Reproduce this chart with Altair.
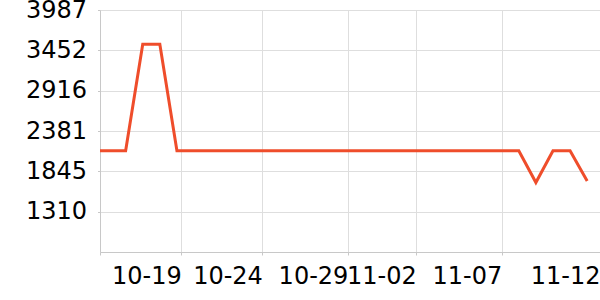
import altair as alt
import pandas as pd

dates = pd.date_range("2024-10-14", "2024-11-12", freq="D")
date_str = [d.strftime("%Y-%m-%d") for d in dates]
values = [2118, 2118, 2118, 3531, 3531,
          2118, 2118, 2118, 2118, 2118, 2118, 2118, 2118, 2118, 2118, 2118,
          2118, 2118, 2118, 2118, 2118, 2118, 2118, 2118, 2118, 2118,
          1697, 2118, 2118, 1718]

y_ticks = [1310.0, 1845.4, 2380.8, 2916.2, 3451.6, 3987.0]
y_domain = [774.6, 3987.0]

def ms(s):
    return int(pd.Timestamp(s, tz="UTC").value // 10**6)

x_start = ms("2024-10-14 12:00")
x_end = ms("2024-11-12 18:00")
x_ticks = [x_start, ms("2024-10-19 06:00"), ms("2024-10-24"), ms("2024-10-29"),
           ms("2024-11-02"), ms("2024-11-07"), x_end]

df = pd.DataFrame({"date": date_str, "value": values})

chart = alt.Chart(df).mark_line(color="#ef4d2b", strokeWidth=3, clip=True).encode(
    x=alt.X("date:T", title=None,
            scale=alt.Scale(type="utc", domain=[x_start, x_end], nice=False),
            axis=alt.Axis(values=x_ticks,
                          labelExpr=f"datum.value <= {x_start} ? '' : utcFormat(datum.value, '%m-%d')",
                          labelAlign="right", labelBaseline="top", labelPadding=9,
                          tickSize=3, labelFontSize=24, labelFont="DejaVu Sans",
                          labelColor="#000", domainColor="#c8c8c8", tickColor="#c8c8c8",
                          gridColor="#dedede", labelOverlap=False, labelFlush=False)),
    y=alt.Y("value:Q", title=None,
            scale=alt.Scale(domain=y_domain, zero=False, nice=False),
            axis=alt.Axis(values=y_ticks, format=".0f", labelFontSize=24,
                          labelFont="DejaVu Sans", labelColor="#000", labelPadding=11,
                          tickSize=2.5, domainColor="#c8c8c8", tickColor="#c8c8c8",
                          gridColor="#dedede", labelOverlap=False, labelFlush=False)),
).properties(
    width=500, height=242,
    autosize=alt.AutoSizeParams(type="none"),
    padding={"left": 100, "top": 10, "right": 0, "bottom": 48},
).configure_view(stroke=None)

chart.save("out.html", embed_options={"renderer": "svg", "actions": False})
